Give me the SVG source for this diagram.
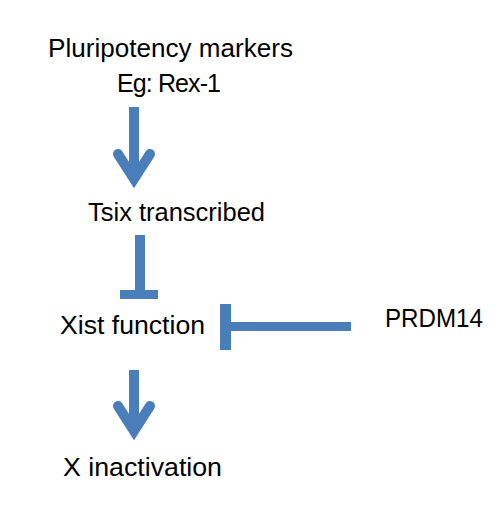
<svg xmlns="http://www.w3.org/2000/svg" width="500" height="515" viewBox="0 0 500 515">
  <style>
    text { font-family: "Liberation Sans", Arial, sans-serif; font-size: 25px; fill: #000; }
    .c { fill: none; stroke: #4A7EBB; }
    .shaft { stroke-width: 10; stroke-linecap: butt; }
    .head { stroke-width: 10; stroke-linecap: round; stroke-linejoin: miter; stroke-miterlimit: 10; }
  </style>
  <rect width="500" height="515" fill="#fff"/>
  <g id="node-pluripotency">
    <text x="48" y="57" textLength="245" lengthAdjust="spacingAndGlyphs">Pluripotency markers</text>
    <text x="117" y="92" textLength="104" lengthAdjust="spacing">Eg: Rex-1</text>
  </g>
  <g id="node-tsix">
    <text x="88" y="221" textLength="177" lengthAdjust="spacingAndGlyphs">Tsix transcribed</text>
  </g>
  <g id="node-xist">
    <text x="60" y="334" textLength="145" lengthAdjust="spacingAndGlyphs">Xist function</text>
  </g>
  <g id="node-prdm14">
    <text x="385" y="327" textLength="98" lengthAdjust="spacingAndGlyphs">PRDM14</text>
  </g>
  <g id="node-xinact">
    <text x="63" y="476" textLength="159" lengthAdjust="spacingAndGlyphs">X inactivation</text>
  </g>
  <g id="connectors">
    <line class="c shaft" x1="134" y1="107" x2="134" y2="180"/>
    <polyline class="c head" points="118,154 134,179 150,154"/>
    <line class="c shaft" x1="140" y1="235" x2="140" y2="294"/>
    <line class="c shaft" x1="120" y1="294.5" x2="158" y2="294.5" style="stroke-width:9"/>
    <line class="c shaft" x1="351" y1="326.5" x2="226" y2="326.5" style="stroke-width:9"/>
    <line class="c shaft" x1="225.5" y1="304" x2="225.5" y2="350" style="stroke-width:11"/>
    <line class="c shaft" x1="134" y1="370" x2="134" y2="432"/>
    <polyline class="c head" points="118,406 134,431 150,406"/>
  </g>
</svg>
